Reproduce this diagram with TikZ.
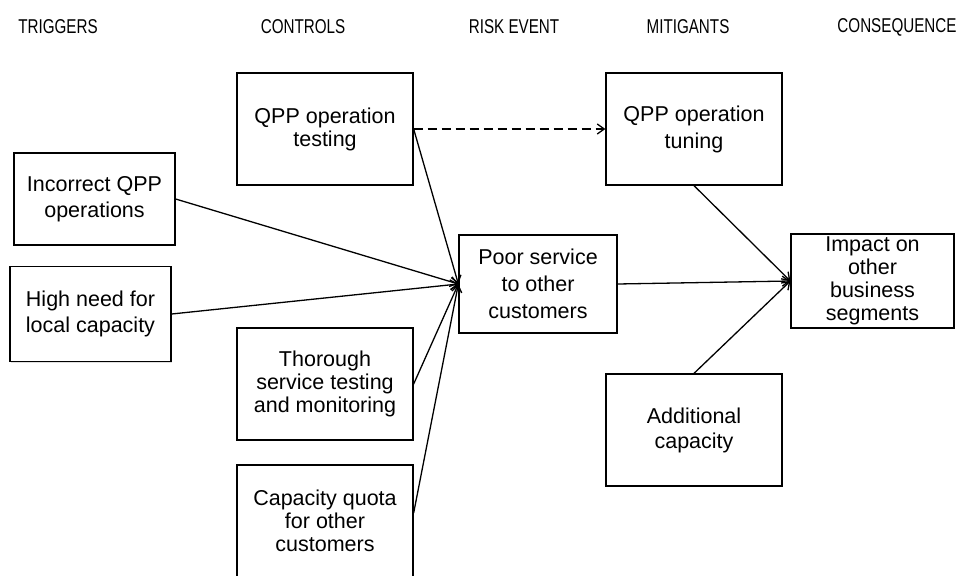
\documentclass[tikz,border=0pt]{standalone}
\usepackage{fontspec}
\setmainfont{Liberation Sans}
\newfontfamily\hdrfont[FakeStretch=0.76]{Liberation Sans}
\usetikzlibrary{arrows.meta,shadows}
\begin{document}
\begin{tikzpicture}[x=1pt,y=-1pt,
  box/.style={draw,line width=1.3pt,fill=white,rectangle,align=center,inner sep=0pt,
    font=\fontsize{21.5}{23}\selectfont,
    drop shadow={opacity=0.25,shadow xshift=1.2pt,shadow yshift=-1.2pt}},
  trig/.style={box,font=\fontsize{21.5}{26}\selectfont},
  wide/.style={box,font=\fontsize{21.5}{27}\selectfont},
  hdr/.style={font=\hdrfont\fontsize{20}{22}\selectfont,inner sep=0pt},
  link/.style={line width=1.3pt,-{Straight Barb[length=7pt,width=10pt,line width=1.3pt]}},
  dlink/.style={link,dash pattern=on 9pt off 5pt}]
\useasboundingbox (0,0) rectangle (957,575);
\clip (0,0) rectangle (957,575);
\fill[white] (0,0) rectangle (957,575);
% headers
\node[hdr] (h1) at (58,27) {TRIGGERS};
\node[hdr] (h2) at (303,27) {CONTROLS};
\node[hdr] (h3) at (514,27) {RISK EVENT};
\node[hdr] (h4) at (688,27) {MITIGANTS};
\node[hdr] (h5) at (897,27) {CONSEQUENCE};
% boxes
\node[trig,minimum width=161pt,minimum height=92pt] (inc) at (94.5,199) {Incorrect QPP\\operations};
\node[trig,minimum width=161pt,minimum height=95pt] (high) at (90.5,314) {High need for\\local capacity};
\node[box,minimum width=176pt,minimum height=112pt] (qppt) at (325,129) {QPP operation\\testing};
\node[box,minimum width=176pt,minimum height=112pt] (thor) at (325,384) {Thorough\\service testing\\and monitoring};
\node[box,minimum width=176pt,minimum height=112pt] (capq) at (325,521) {Capacity quota\\for other\\customers};
\node[wide,minimum width=158pt,minimum height=98pt] (poor) at (538,284) {Poor service\\to other\\customers};
\node[wide,minimum width=176pt,minimum height=112pt] (tune) at (694,129) {QPP operation\\tuning};
\node[box,font=\fontsize{21.5}{25}\selectfont,minimum width=176pt,minimum height=112pt] (add) at (694,430) {Additional\\capacity};
\node[box,minimum width=163pt,minimum height=94pt] (imp) at (872.5,281) {Impact on\\other\\business\\segments};
% connectors
\draw[link] (inc.east) -- (poor.west);
\draw[link] (high.east) -- (poor.west);
\draw[link] (qppt.east) -- (poor.west);
\draw[link] (thor.east) -- (poor.west);
\draw[link] ([yshift=8pt]capq.east) -- (poor.west);
\draw[dlink] (qppt.east) -- (tune.west);
\draw[link] (poor.east) -- (imp.west);
\draw[link] (tune.south) -- (imp.west);
\draw[link] (add.north) -- (imp.west);
\end{tikzpicture}
\end{document}
